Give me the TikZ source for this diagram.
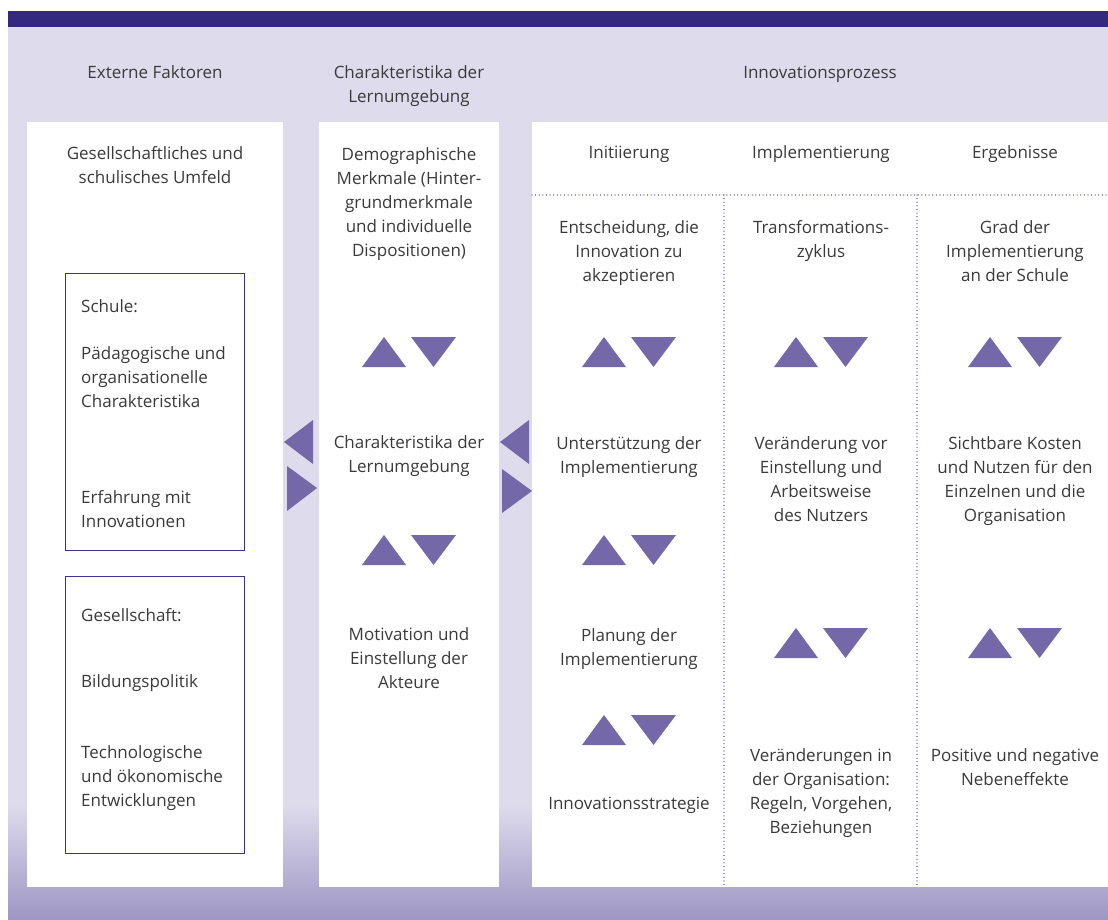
\documentclass[tikz,border=0pt]{standalone}
\usepackage{fontspec}
\setmainfont{Open Sans}
\definecolor{lavender}{RGB}{222,219,236}
\definecolor{lavdark}{RGB}{157,150,196}
\definecolor{topbar}{RGB}{51,41,127}
\definecolor{trifill}{RGB}{116,104,168}
\definecolor{boxline}{RGB}{60,51,140}
\definecolor{dotline}{RGB}{126,116,184}
\definecolor{textgray}{RGB}{58,58,58}

\begin{document}
\begin{tikzpicture}[x=1pt, y=-1pt,
    every node/.style={inner sep=0pt, text=textgray, font=\fontsize{17}{24}\selectfont},
    txt/.style={align=center, anchor=base},
    ltxt/.style={align=left, anchor=base west},
    panel/.style={fill=white},
    tri/.style={fill=trifill},
    sep/.style={dotline, line width=1.2pt, dash pattern=on 0.01pt off 3.6pt, line cap=round}]
  \useasboundingbox (0,0) rectangle (1108,920);

  % Hintergrund
  \fill[lavender] (8,27) rectangle (1108,920);
  \shade[top color=lavender, bottom color=lavdark] (8,805) rectangle (1108,920);
  \fill[topbar] (8,11) rectangle (1108,27);

  % Spalten
  \fill[panel] (27,122) rectangle (283,887);
  \fill[panel] (319,122) rectangle (499,887);
  \fill[panel] (532,122) rectangle (1108,887);
  \draw[sep] (532,195) -- (1108,195);
  \draw[sep] (724,195) -- (724,887);
  \draw[sep] (917,195) -- (917,887);
  \draw[boxline, line width=0.9pt] (65,273) rectangle (244,550);
  \draw[boxline, line width=0.9pt] (65,576) rectangle (244,853);

  % Kopfzeilen (Anker: Grundlinie der letzten Zeile)
  \node[txt] (extern) at (155,79) {Externe Faktoren};
  \node[txt] (lernhead) at (409,103) {Charakteristika der\\Lernumgebung};
  \node[txt] (prozess) at (820,79) {Innovationsprozess};
  \node[txt] (init) at (629,159) {Initiierung};
  \node[txt] (impl) at (821,159) {Implementierung};
  \node[txt] (ergeb) at (1015,159) {Ergebnisse};

  % Externe Faktoren
  \node[txt] (umfeld) at (155,184) {Gesellschaftliches und\\schulisches Umfeld};
  \node[ltxt] (schule) at (81,312) {Schule:};
  \node[ltxt] (paed) at (81,407) {Pädagogische und\\organisationelle\\Charakteristika};
  \node[ltxt] (erfahr) at (81,527) {Erfahrung mit\\Innovationen};
  \node[ltxt] (gesell) at (81,621) {Gesellschaft:};
  \node[ltxt] (bildung) at (81,687) {Bildungspolitik};
  \node[ltxt] (technol) at (81,806) {Technologische\\und ökonomische\\Entwicklungen};

  % Lernumgebung
  \node[txt] (demogr) at (409,256) {Demographische\\Merkmale (Hinter-\\grundmerkmale\\und individuelle\\Dispositionen)};
  \node[txt] (charakt) at (409,472) {Charakteristika der\\Lernumgebung};
  \node[txt] (motiv) at (409,688) {Motivation und\\Einstellung der\\Akteure};

  % Innovationsprozess
  \node[txt] (entsch) at (629,281) {Entscheidung, die\\Innovation zu\\akzeptieren};
  \node[txt] (unterst) at (629,473) {Unterstützung der\\Implementierung};
  \node[txt] (planung) at (629,665) {Planung der\\Implementierung};
  \node[txt] (strategie) at (629,809) {Innovationsstrategie};
  \node[txt] (transf) at (821,257) {Transformations-\\zyklus};
  \node[txt] (veraend) at (821,521) {Veränderung vor\\Einstellung und\\Arbeitsweise\\des Nutzers};
  \node[txt] (veraendorg) at (821,833) {Veränderungen in\\der Organisation:\\Regeln, Vorgehen,\\Beziehungen};
  \node[txt] (grad) at (1015,281) {Grad der\\Implementierung\\an der Schule};
  \node[txt] (kosten) at (1015,521) {Sichtbare Kosten\\und Nutzen für den\\Einzelnen und die\\Organisation};
  \node[txt] (neben) at (1015,785) {Positive und negative\\Nebeneffekte};

  % Dreiecke
  \foreach \cx/\cy in {409/337, 409/535, 629/337, 629/535, 629/715,
                       821/337, 821/628, 1015/337, 1015/628} {
    \fill[tri] (\cx-47,\cy+30) -- (\cx-25,\cy) -- (\cx-3,\cy+30) -- cycle;
    \fill[tri] (\cx+2,\cy) -- (\cx+47,\cy) -- (\cx+24.5,\cy+30) -- cycle;
  }
  \fill[tri] (284,442) -- (313,420) -- (313,464) -- cycle;
  \fill[tri] (287,466) -- (317,488) -- (287,511) -- cycle;
  \fill[tri] (500,442) -- (529,420) -- (529,464) -- cycle;
  \fill[tri] (502,469) -- (532,491) -- (502,513) -- cycle;
\end{tikzpicture}
\end{document}
